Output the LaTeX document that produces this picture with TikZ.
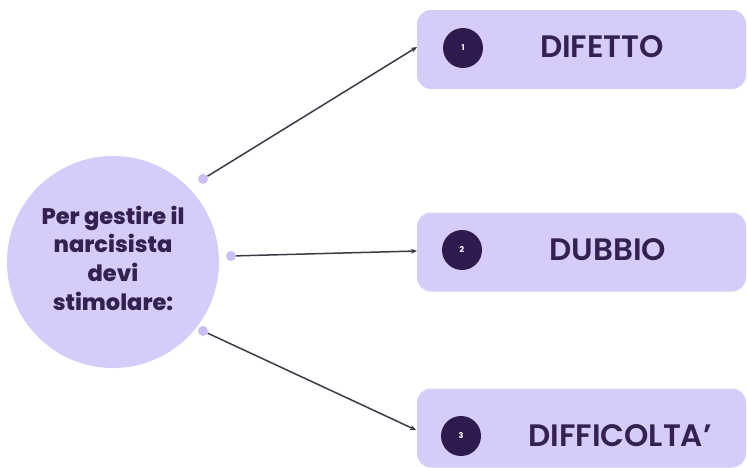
\documentclass[tikz,border=0pt]{standalone}
\usepackage{fontspec}
\setmainfont{Poppins}
\newfontfamily\pillfont{Poppins SemiBold}
\newfontfamily\hubfont{Poppins ExtraBold}
\usetikzlibrary{arrows.meta}
\definecolor{lav}{HTML}{D6CCFA}
\definecolor{lavdot}{HTML}{CBBEF6}
\definecolor{deep}{HTML}{2E1A4F}
\definecolor{ink}{HTML}{33214F}
\definecolor{wire}{HTML}{3C3A44}
\tikzset{
  hub/.style={circle, fill=lav, minimum size=212pt, inner sep=0pt},
  pill/.style={rounded corners=14pt, fill=lav, minimum width=329pt, minimum height=79pt, inner sep=0pt},
  knob/.style={circle, fill=lavdot, minimum size=10pt, inner sep=0pt},
  badge/.style={circle, fill=deep, minimum size=40pt, inner sep=0pt, text=white, font=\bfseries\fontsize{8}{8}\selectfont},
  word/.style={text=ink, font=\pillfont\fontsize{31}{32}\selectfont},
  link/.style={draw=wire, line width=1.5pt, -{Stealth[length=6pt,width=5pt]}},
}
\begin{document}
\begin{tikzpicture}[x=1pt,y=-1pt]
\useasboundingbox (0,0) rectangle (747,467);
\node[hub] (hub) at (113,262) {};
\node[text=ink, align=center, font=\hubfont\fontsize{22.5}{28.7}\selectfont] (hubtxt) at (113,258) {Per gestire il\\narcisista\\devi\\stimolare:};
\node[knob] (k1) at (203,179) {};
\node[knob] (k2) at (231,256) {};
\node[knob] (k3) at (203,331) {};
\node[pill] (b1) at (581.5,49.5) {};
\node[pill] (b2) at (581.5,252) {};
\node[pill] (b3) at (581.5,428) {};
\node[badge] (n1) at (463,48) {1};
\node[badge] (n2) at (462,250) {2};
\node[badge] (n3) at (461,436) {3};
\node[word] (t1) at (602,47) {DIFETTO};
\node[word] (t2) at (608,250) {DUBBIO};
\node[word] (t3) at (620,436) {DIFFICOLTA’};
\coordinate (e1) at (417,47);
\coordinate (e2) at (417,251);
\coordinate (e3) at (416,430);
\draw[link] (k1) -- (e1);
\draw[link] (k2) -- (e2);
\draw[link] (k3) -- (e3);
\end{tikzpicture}
\end{document}
